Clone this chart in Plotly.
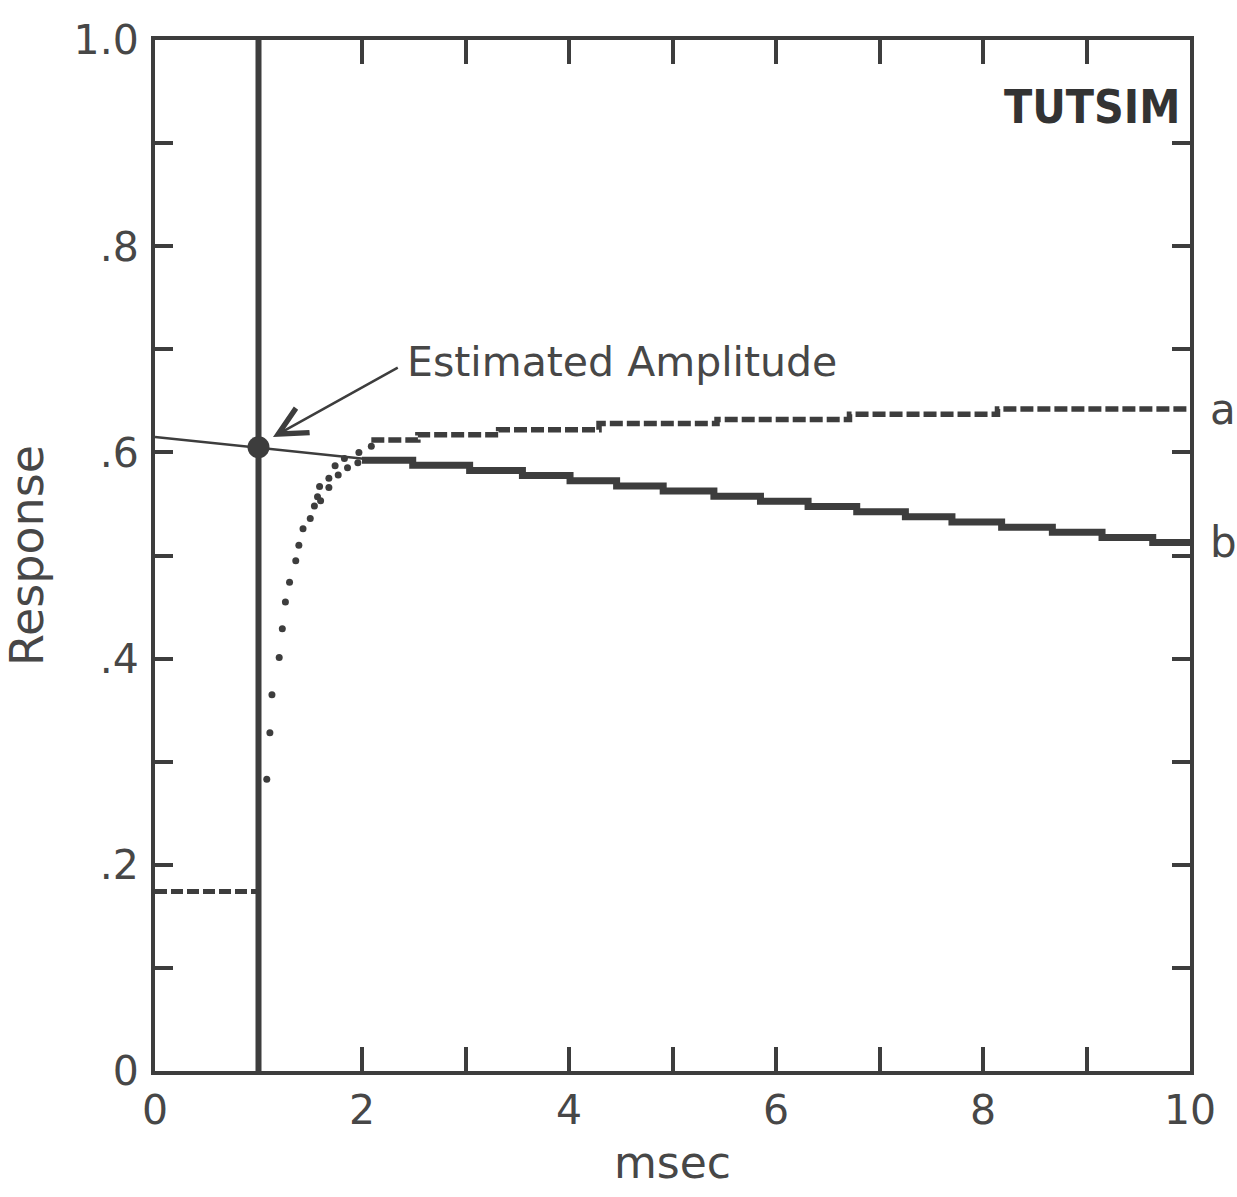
import plotly.graph_objects as go

# Time axis (msec) and response axis ticks
x_ticks = [0, 1, 2, 3, 4, 5, 6, 7, 8, 9, 10]
x_labels = ["0", "", "2", "", "4", "", "6", "", "8", "", "10"]
y_ticks = [0.0, 0.1, 0.2, 0.3, 0.4, 0.5, 0.6, 0.7, 0.8, 0.9, 1.0]
y_labels = ["0", "", ".2", "", ".4", "", ".6", "", ".8", "", "1.0"]

# Stimulus pulse at t = 1 msec
pulse_t = [1.0, 1.0]
pulse_v = [0.0, 1.0]

# Curve a: baseline before the pulse, fast rise, then quantised hold
a_pre_t = [0.0, 1.0]
a_pre_v = [0.174, 0.174]
a_rise_t = [1.08, 1.11, 1.13, 1.20, 1.23, 1.26, 1.30, 1.36, 1.39, 1.43,
            1.50, 1.54, 1.57, 1.59, 1.68, 1.74, 1.83, 1.97, 2.09]
a_rise_v = [0.283, 0.328, 0.365, 0.401, 0.429, 0.455, 0.474, 0.495, 0.510, 0.526,
            0.536, 0.548, 0.557, 0.567, 0.575, 0.587, 0.594, 0.600, 0.606]
a_step_t = [2.09, 2.54, 3.32, 4.29, 5.43, 6.71, 8.14, 10.0]
a_step_v = [0.612, 0.617, 0.622, 0.628, 0.632, 0.637, 0.642, 0.642]

# Curve b: rise, then slow quantised decay
b_rise_t = [1.60, 1.68, 1.77, 1.86, 1.96]
b_rise_v = [0.553, 0.566, 0.578, 0.585, 0.590]
b_step_t = [2.00, 2.49, 3.04, 3.55, 4.01, 4.46, 4.91, 5.40, 5.85, 6.31,
            6.78, 7.25, 7.70, 8.18, 8.67, 9.15, 9.64, 10.0]
b_step_v = [0.5925, 0.5875, 0.5825, 0.5775, 0.5725, 0.5675, 0.5625, 0.5575, 0.5525, 0.5475,
            0.5425, 0.5375, 0.5325, 0.5275, 0.5225, 0.5175, 0.5125, 0.5125]

# Straight-line fit of b extrapolated back to the pulse
fit_t = [0.0, 2.2]
fit_v = [0.615, 0.592]
est_t = [1.0]
est_v = [0.605]

INK = "#3d3d3d"
TXT = "#474747"
FONT = "DejaVu Sans"

fig = go.Figure()

fig.add_trace(go.Scatter(x=pulse_t, y=pulse_v, mode="lines",
                         line=dict(color=INK, width=6), cliponaxis=False))
fig.add_trace(go.Scatter(x=a_pre_t, y=a_pre_v, mode="lines",
                         line=dict(color=INK, width=5, dash="12px,4px")))
fig.add_trace(go.Scatter(x=a_rise_t, y=a_rise_v, mode="markers",
                         marker=dict(color=INK, size=7)))
fig.add_trace(go.Scatter(x=b_rise_t, y=b_rise_v, mode="markers",
                         marker=dict(color=INK, size=7)))
fig.add_trace(go.Scatter(x=a_step_t, y=a_step_v, mode="lines", line_shape="hv",
                         line=dict(color=INK, width=5.5, dash="13px,4px")))
fig.add_trace(go.Scatter(x=fit_t, y=fit_v, mode="lines",
                         line=dict(color=INK, width=2.5)))
fig.add_trace(go.Scatter(x=b_step_t, y=b_step_v, mode="lines", line_shape="hv",
                         line=dict(color=INK, width=7)))
fig.add_trace(go.Scatter(x=est_t, y=est_v, mode="markers",
                         marker=dict(color=INK, size=22)))

# Annotation with arrow pointing at the estimated amplitude
fig.add_annotation(x=1.14, y=0.615, ax=2.36, ay=0.683, axref="x", ayref="y",
                   xref="x", yref="y", text="", showarrow=True,
                   arrowhead=5, arrowsize=2.2, arrowwidth=2.5, arrowcolor=INK)
fig.add_annotation(x=2.42, y=0.688, xref="x", yref="y", text="Estimated Amplitude",
                   showarrow=False, xanchor="left", yanchor="middle",
                   font=dict(family=FONT, size=41, color=TXT))
fig.add_annotation(x=9.05, y=0.935, xref="x", yref="y", text="<b>TUTSIM</b>",
                   showarrow=False, xanchor="center", yanchor="middle",
                   font=dict(family="DejaVu Sans Condensed, Liberation Sans Narrow, sans-serif",
                             size=46, color="#333333"))
fig.add_annotation(x=a_step_t[-1], y=a_step_v[-1], xref="x", yref="y", text="a",
                   showarrow=False, xanchor="left", yanchor="middle", xshift=18,
                   font=dict(family=FONT, size=42, color=TXT))
fig.add_annotation(x=b_step_t[-1], y=b_step_v[-1], xref="x", yref="y", text="b",
                   showarrow=False, xanchor="left", yanchor="middle", xshift=18,
                   font=dict(family=FONT, size=42, color=TXT))

axis_common = dict(showline=True, linewidth=4, linecolor=INK, mirror="ticks",
                   ticks="inside", tickwidth=4, tickcolor=INK,
                   showgrid=False, zeroline=False,
                   tickfont=dict(family=FONT, size=41, color=TXT))

fig.update_xaxes(range=[0, 10], tickmode="array", tickvals=x_ticks, ticktext=x_labels,
                 ticklen=24, ticklabelstandoff=0,
                 title=dict(text="msec", font=dict(family=FONT, size=44, color=TXT), standoff=15),
                 **axis_common)
fig.update_yaxes(range=[0, 1], tickmode="array", tickvals=y_ticks, ticktext=y_labels,
                 ticklen=18, ticklabelstandoff=4,
                 title=dict(text="Response", font=dict(family=FONT, size=46, color=TXT), standoff=16),
                 **axis_common)

fig.update_layout(width=1237, height=1197, showlegend=False,
                  margin=dict(l=155, r=47, t=40, b=126),
                  plot_bgcolor="white", paper_bgcolor="white")

fig.write_html("out.html")
